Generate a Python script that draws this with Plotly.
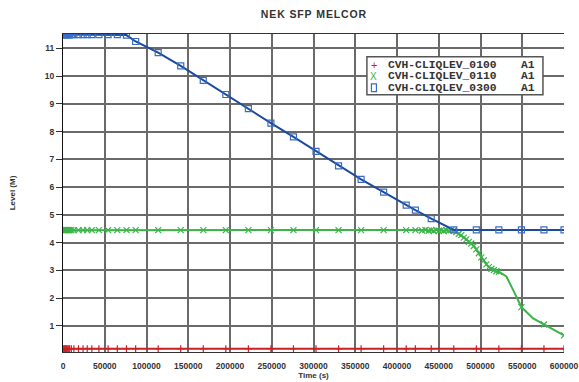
import plotly.graph_objects as go

# ---- data: MELCOR control-volume liquid levels (m) vs time (s) ----
# output times shared by all three volumes (plot symbols are drawn here)
t_out = [0, 1000, 2000, 3000, 4000, 5000, 6000, 7000, 8000, 10000, 13000,
         18500, 24000, 29000, 34500, 43000, 54000, 65000, 76000, 87000,
         114000, 141000, 168000, 195000, 222000, 249000, 276000, 303000,
         330000, 357000, 384000, 411000, 422000, 441000, 468000, 495000,
         522000, 549000, 576000, 600000]

# CVH-CLIQLEV_0100 (bottom volume) stays at a constant low level
lev_0100 = [0.18] * len(t_out)

# CVH-CLIQLEV_0300 (pool) : flat, then boil-off, then stays at 4.46
lev_0300 = [11.5, 11.5, 11.5, 11.5, 11.5, 11.5, 11.5, 11.5, 11.5, 11.5, 11.5,
            11.5, 11.5, 11.5, 11.5, 11.5, 11.5, 11.5, 11.48, 11.25,
            10.85, 10.37, 9.85, 9.34, 8.83, 8.31, 7.81, 7.29,
            6.77, 6.28, 5.82, 5.35, 5.17, 4.87, 4.46, 4.46,
            4.46, 4.46, 4.46, 4.46]

# CVH-CLIQLEV_0110 : finer output while the level drops
t_0110 = t_out[:33] + [430000, 434000, 438000, 441000, 444000, 447000,
                       450000, 453000, 456000, 459000, 462000, 465000,
                       468000, 471000, 474000, 477000, 480000, 483000,
                       486000, 489000, 492000, 495000, 498000, 501000,
                       504000, 507000, 510000, 513000, 516000, 519000,
                       522000, 531000, 539000, 549000, 563000, 576000,
                       600000]
lev_0110 = [4.45] * 33 + [4.44, 4.46, 4.43, 4.45, 4.42, 4.46,
                          4.43, 4.45, 4.42, 4.45, 4.43, 4.45,
                          4.44, 4.38, 4.32, 4.27, 4.18, 4.12,
                          4.03, 3.97, 3.88, 3.76, 3.62, 3.47,
                          3.36, 3.22, 3.12, 3.06, 3.01, 2.97,
                          2.95, 2.78, 2.30, 1.68, 1.27, 1.05,
                          0.66]
# samples of CLIQLEV_0110 that are written without a plot symbol
t_0110_nosym = [531000, 539000, 563000]

x_ticks = [0, 50000, 100000, 150000, 200000, 250000, 300000,
           350000, 400000, 450000, 500000, 550000, 600000]
y_ticks = [1, 2, 3, 4, 5, 6, 7, 8, 9, 10, 11]

names = ["CVH-CLIQLEV_0100", "CVH-CLIQLEV_0110", "CVH-CLIQLEV_0300"]
units = ["A1", "A1", "A1"]

RED, GREEN, BLUE = "#cc1f24", "#3cb44a", "#1b4a9e"
SYM_BLUE = "#3a6cc4"
FONT = "Liberation Sans"
MONO = "Liberation Mono"

fig = go.Figure()


def add_series(t, y, color, symbol, sym_color, t_nosym=(), size=6):
    fig.add_trace(go.Scatter(x=t, y=y, mode="lines",
                             line=dict(color=color, width=2),
                             showlegend=False, hoverinfo="skip"))
    ts = [a for a in t if a not in t_nosym]
    ys = [b for a, b in zip(t, y) if a not in t_nosym]
    fig.add_trace(go.Scatter(x=ts, y=ys, mode="markers",
                             marker=dict(symbol=symbol, size=size,
                                         color=sym_color,
                                         line=dict(color=sym_color, width=1.2)),
                             showlegend=False, hoverinfo="skip"))


add_series(t_out, lev_0100, RED, "cross-thin", RED, size=5)
add_series(t_0110, lev_0110, GREEN, "x-thin", GREEN, t_0110_nosym)
add_series(t_out, lev_0300, BLUE, "square-open", SYM_BLUE)

tick_font = dict(family=FONT, size=8.5, color="#333333", weight="bold")

# letter-spaced title
title_text = "\u200a".join("NEK SFP MELCOR")

fig.update_layout(
    width=579, height=382,
    margin=dict(l=63, r=15, t=34, b=30),
    paper_bgcolor="white", plot_bgcolor="white",
    title=dict(text=title_text, x=0.5, xref="paper",
               xanchor="center", y=1 - 14 / 382, yref="container",
               yanchor="middle",
               font=dict(family=FONT, size=10.5, color="#333333",
                         weight="bold")),
    xaxis=dict(range=[0, 600000], tickvals=x_ticks,
               ticktext=[str(v) for v in x_ticks], automargin=False,
               showgrid=True, gridcolor="#6a6a6a", gridwidth=1.5,
               zeroline=False, showline=True, linecolor="#333333",
               linewidth=1, mirror=True, ticks="", ticklabelstandoff=6,
               tickfont=tick_font,
               title=dict(text="Time (s)", standoff=2,
                          font=dict(family=FONT, size=8, color="#333333",
                                    weight="bold"))),
    yaxis=dict(range=[0.06, 11.52], tickvals=y_ticks, automargin=False,
               showgrid=True, gridcolor="#6a6a6a", gridwidth=1.5,
               zeroline=False, showline=True, linecolor="#111111",
               linewidth=1.2, mirror=False, ticks="outside", ticklen=6,
               tickcolor="#333333", tickwidth=1,
               tickfont=tick_font,
               title=dict(text="Level (M)", standoff=27,
                          font=dict(family=FONT, size=8, color="#333333",
                                    weight="bold"))),
)

# ---- legend box (paper coordinates of the plot area) ----
lx0, lx1, ly0, ly1 = 0.6066, 0.958, 0.8088, 0.9285
fig.add_shape(type="rect", xref="paper", yref="paper",
              x0=lx0, x1=lx1, y0=ly0, y1=ly1,
              line=dict(color="#555555", width=1.5), fillcolor="white",
              layer="above")

rows = [0.903, 0.867, 0.831]
sym_x = 0.6206
for i, (nm, un) in enumerate(zip(names, units)):
    fig.add_annotation(x=0.6449, y=rows[i], xref="paper", yref="paper",
                       text=nm, showarrow=False, xanchor="left",
                       yanchor="middle",
                       font=dict(family=MONO, size=11.3, color="#333333",
                                 weight="bold"))
    fig.add_annotation(x=0.911, y=rows[i], xref="paper", yref="paper",
                       text=un, showarrow=False, xanchor="left",
                       yanchor="middle",
                       font=dict(family=MONO, size=11.3, color="#333333",
                                 weight="bold"))

fig.add_annotation(x=sym_x, y=rows[0], xref="paper", yref="paper",
                   text="+", showarrow=False, xanchor="center",
                   yanchor="middle",
                   font=dict(family=FONT, size=11, color=RED))
fig.add_annotation(x=sym_x, y=rows[1], xref="paper", yref="paper",
                   text="X", showarrow=False, xanchor="center",
                   yanchor="middle",
                   font=dict(family=FONT, size=10, color=GREEN))
fig.add_shape(type="rect", xref="paper", yref="paper",
              x0=sym_x - 0.005, x1=sym_x + 0.005,
              y0=rows[2] - 0.012, y1=rows[2] + 0.012,
              line=dict(color=SYM_BLUE, width=1.2), fillcolor="white",
              layer="above")

fig.write_html("out.html")
